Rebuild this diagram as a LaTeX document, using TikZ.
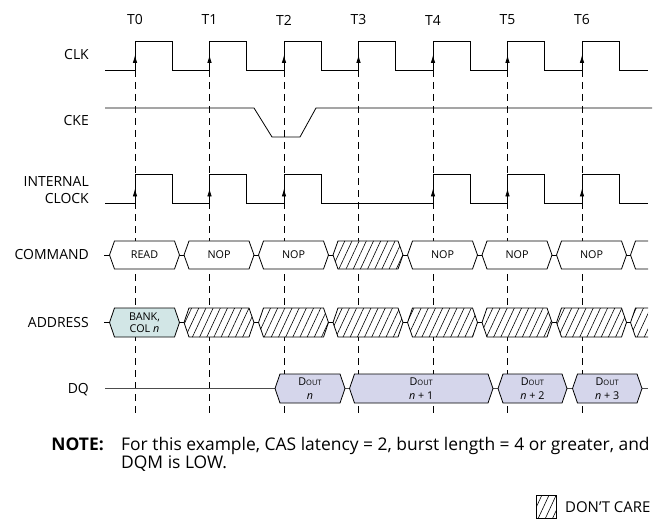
\documentclass[tikz,border=0pt]{standalone}
\usepackage{fontspec}
\setmainfont{Open Sans}
\usetikzlibrary{arrows.meta,patterns.meta}
\definecolor{addrfill}{HTML}{D2E6E6}
\definecolor{dqfill}{HTML}{D5D6EB}
\begin{document}
\begin{tikzpicture}[x=1bp, y=-1bp,
    wave/.style={line width=0.8bp},
    guide/.style={line width=0.7bp, dash pattern=on 7bp off 5bp},
    edgetip/.style={line width=0.8bp, -{Latex[length=8bp,width=4.5bp]}},
    dontcare/.style={preaction={fill=white}, pattern={Lines[angle=65,distance=6.5bp,line width=0.6bp]}},
    rowlabel/.style={font=\fontsize{14}{17}\selectfont, anchor=east, align=right, inner sep=0pt},
    boxtxt/.style={font=\fontsize{10.8}{14}\selectfont, align=center, inner sep=0pt},
    notetxt/.style={font=\fontsize{17.5}{18}\selectfont, inner sep=0pt}]
    \useasboundingbox (0,0) rectangle (661,519);
    % clock edges T0 ... T6
    \foreach \k in {0,...,6} {
        \node[font=\fontsize{14}{17}\selectfont] (t\k) at ({135+74.5*\k},20) {T\k};
        \draw[guide] ({135+74.5*\k},70) -- ({135+74.5*\k},414);
    }
    % row labels
    \node[rowlabel] (clk) at (89,55) {CLK};
    \node[rowlabel] (cke) at (89,121) {CKE};
    \node[rowlabel] (iclk) at (89,190) {INTERNAL\\CLOCK};
    \node[rowlabel] (cmd) at (89,255) {COMMAND};
    \node[rowlabel] (addr) at (89,323) {ADDRESS};
    \node[rowlabel] (dq) at (89,390) {DQ};
    % CLK
    \draw[wave] (105,70) foreach \k in {0,...,6} { -- ({135+74.5*\k},70) -- ++(0,-29) -- ++(37,0) -- ++(0,29) } -- (648,70);
    \foreach \k in {0,...,6}
        \draw[edgetip] ({135+74.5*\k},68) -- ({135+74.5*\k},55);
    % CKE
    \draw[wave] (105,108) -- (254,108) -- (272,137) -- (300,137) -- (316,108) -- (652,108);
    % internal clock
    \draw[wave] (105,203) foreach \k in {0,1,2,4,5,6} { -- ({135+74.5*\k},203) -- ++(0,-29) -- ++(37,0) -- ++(0,29) } -- (648,203);
    \foreach \k in {0,1,2,4,5,6}
        \draw[edgetip] ({135+74.5*\k},201) -- ({135+74.5*\k},188.5);
    % COMMAND
    \draw[wave] (104,255) -- (648,255);
    \foreach \k/\txt in {0/READ,1/NOP,2/NOP,4/NOP,5/NOP,6/NOP} {
        \draw[wave, fill=white] ({109.5+74.5*\k},255) -- ++(5,-14) -- ++(60,0) -- ++(5,14) -- ++(-5,14) -- ++(-60,0) -- cycle;
        \node[boxtxt] (cmd\k) at ({144.5+74.5*\k},255) {\txt};
    }
    \draw[wave, dontcare] (333,255) -- ++(5,-14) -- ++(60,0) -- ++(5,14) -- ++(-5,14) -- ++(-60,0) -- cycle;
    \fill[white] (630.5,255) -- (635.5,241) -- (648,241) -- (648,269) -- (635.5,269) -- cycle;
    \draw[wave] (648,241) -- (635.5,241) -- (630.5,255) -- (635.5,269) -- (648,269);
    % ADDRESS
    \draw[wave] (104,322.5) -- (648,322.5);
    \draw[wave, fill=addrfill] (109.5,322.5) -- ++(5,-14.5) -- ++(60,0) -- ++(5,14.5) -- ++(-5,14.5) -- ++(-60,0) -- cycle;
    \node[boxtxt, font=\fontsize{10.8}{11.5}\selectfont] (bank) at (144.5,322.5) {BANK,\\COL \textit{n}};
    \foreach \k in {1,...,6}
        \draw[wave, dontcare] ({109.5+74.5*\k},322.5) -- ++(5,-14.5) -- ++(60,0) -- ++(5,14.5) -- ++(-5,14.5) -- ++(-60,0) -- cycle;
    \path[dontcare] (630.5,322.5) -- (635.5,308) -- (648,308) -- (648,337) -- (635.5,337) -- cycle;
    \draw[wave] (648,308) -- (635.5,308) -- (630.5,322.5) -- (635.5,337) -- (648,337);
    % DQ
    \draw[wave, black!70] (105,388.5) -- (648,388.5);
    \foreach \xa/\xb/\txt in {275/345/\textit{n}, 349.5/493/\textit{n} + 1, 498/567/\textit{n} + 2, 572.5/642/\textit{n} + 3} {
        \draw[wave, fill=dqfill] (\xa,388.5) -- ++(5,-14.5) -- (\xb-5,374) -- (\xb,388.5) -- (\xb-5,403) -- (\xa+5,403) -- cycle;
        \node[boxtxt] (dout\xa) at ({(\xa+\xb)/2},389) {D{\fontsize{7.5}{8}\selectfont OUT}\\\txt};
    }
    % note
    \node[notetxt, font=\bfseries\fontsize{17.5}{18}\selectfont, anchor=base east] (notehead) at (104,450.5) {NOTE:};
    \node[notetxt, anchor=base west] (note1) at (121,450.5) {For this example, CAS latency = 2, burst length = 4 or greater, and};
    \node[notetxt, anchor=base west] (note2) at (121,468.5) {DQM is LOW.};
    % legend
    \draw[line width=0.7bp, dontcare] (536,495) rectangle (556,518);
    \node[notetxt, font=\fontsize{15}{18}\selectfont, anchor=base west] (legend) at (565,512) {DON'T CARE};
\end{tikzpicture}
\end{document}
